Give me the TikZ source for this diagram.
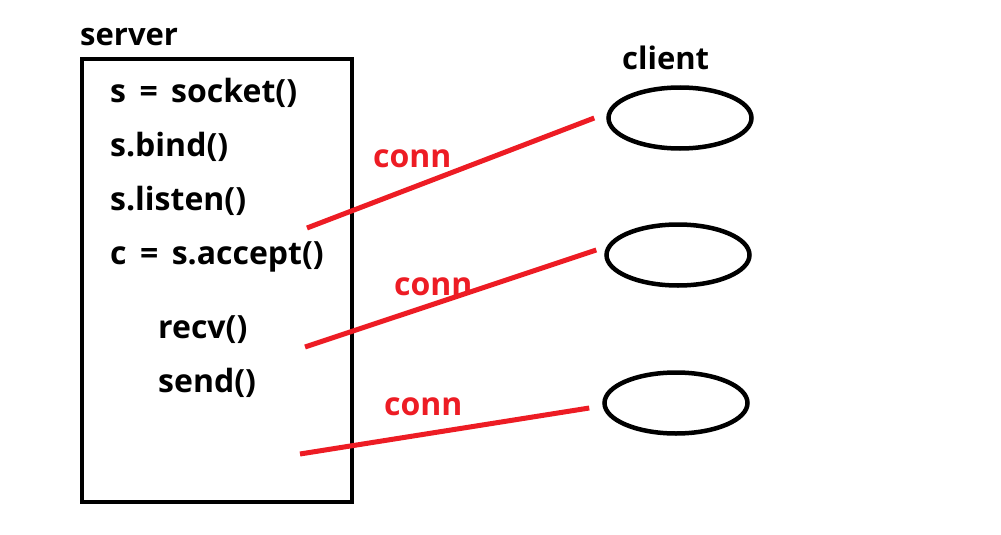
\documentclass[tikz,border=0pt]{standalone}
\usepackage{fontspec}
\setmainfont{Open Sans}[BoldFont={Open Sans Bold}]
\usepackage{xcolor}
\usetikzlibrary{shapes.geometric, arrows}
\usetikzlibrary{positioning, arrows.meta}
\usetikzlibrary{calc}
\definecolor{paintred}{RGB}{237,28,36}
\newcommand{\eqsp}{\hspace{0.42em}=\hspace{0.42em}}
\begin{document}
\begin{tikzpicture}[
        x=1pt, y=-1pt,
        code/.style={anchor=base west, inner sep=0pt, font=\bfseries\fontsize{32}{34}\selectfont},
        label/.style={anchor=base west, inner sep=0pt, font=\bfseries\fontsize{31}{33}\selectfont},
        connlabel/.style={anchor=base west, inner sep=0pt, text=paintred, font=\bfseries\fontsize{32}{34}\selectfont},
        client/.style={ellipse, draw=black, line width=4.5pt, minimum width=143pt, minimum height=61pt, inner sep=0pt},
        connline/.style={draw=paintred, line width=5pt}
    ]
        \useasboundingbox (0,0) rectangle (1001,535);

        % ===== 服务端 =====
        \node (server) [label] at (80,46) {server};
        \draw [line width=4.5pt] (82,59) rectangle (352,502);
        \node (socket) [code] at (110,102) {s\eqsp socket()};
        \node (bind) [code] at (110,156) {s.bind()};
        \node (listen) [code] at (110,210) {s.listen()};
        \node (accept) [code] at (110,264) {c\eqsp s.accept()};
        \node (recv) [code] at (158,338) {recv()};
        \node (send) [code] at (158,392) {send()};

        % ===== 客户端 =====
        \node (clientlabel) [label] at (622,70) {client};
        \node (cl1) [client] at (680,118) {};
        \node (cl2) [client] at (678,255) {};
        \node (cl3) [client] at (676,403) {};

        % ===== 连接 =====
        \coordinate (c1) at (307,228);
        \coordinate (c2) at (305,347);
        \coordinate (c3) at (300,454);
        \draw [connline] (c1) -- ([xshift=-12pt]cl1.west);
        \draw [connline] (c2) -- ([xshift=-8pt,yshift=5pt]cl2.west);
        \draw [connline] (c3) -- ([xshift=-13pt,yshift=-5pt]cl3.west);
        \node (conn1) [connlabel] at (373,167) {conn};
        \node (conn2) [connlabel] at (394,295) {conn};
        \node (conn3) [connlabel] at (384,415) {conn};

    \end{tikzpicture}
\end{document}
